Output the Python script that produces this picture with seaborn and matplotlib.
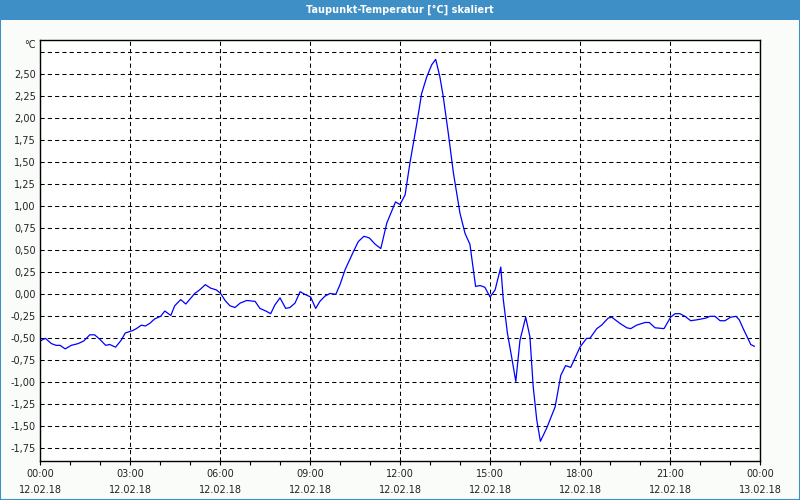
import matplotlib
matplotlib.use("Agg")
import matplotlib.pyplot as plt
import seaborn as sns
import pandas as pd
from matplotlib.patches import Rectangle
from matplotlib.ticker import MultipleLocator

title = "Taupunkt-Temperatur [°C] skaliert"
unit_label = "°C"

hours = [0.00, 0.18, 0.38, 0.54, 0.67, 0.84, 1.04, 1.27, 1.46, 1.66, 1.82, 1.99,
         2.19, 2.32, 2.52, 2.71, 2.84, 3.10, 3.21, 3.38, 3.51, 3.66, 3.82, 4.02,
         4.16, 4.36, 4.49, 4.69, 4.86, 5.16, 5.32, 5.51, 5.69, 5.88, 6.02, 6.17,
         6.33, 6.50, 6.67, 6.89, 7.17, 7.33, 7.53, 7.69, 7.83, 8.00, 8.19, 8.33,
         8.50, 8.67, 8.83, 9.02, 9.19, 9.33, 9.50, 9.67, 9.86, 10.00, 10.17, 10.44,
         10.61, 10.80, 10.98, 11.17, 11.36, 11.56, 11.85, 12.00, 12.17, 12.33, 12.56, 12.72,
         12.89, 13.06, 13.19, 13.33, 13.44, 13.61, 13.78, 14.00, 14.17, 14.33, 14.52, 14.67,
         14.83, 15.00, 15.17, 15.36, 15.44, 15.58, 15.72, 15.86, 16.00, 16.19, 16.33, 16.44,
         16.56, 16.68, 16.89, 17.17, 17.36, 17.52, 17.69, 18.00, 18.22, 18.33, 18.56, 18.72,
         18.94, 19.06, 19.33, 19.56, 19.69, 19.89, 20.17, 20.31, 20.50, 20.80, 21.02, 21.17,
         21.33, 21.50, 21.69, 21.89, 22.20, 22.33, 22.50, 22.67, 22.83, 23.02, 23.20, 23.31,
         23.44, 23.61, 23.69, 23.81]

values = [-0.53, -0.50, -0.56, -0.58, -0.58, -0.62, -0.58, -0.56, -0.53, -0.46, -0.46, -0.51,
          -0.58, -0.57, -0.60, -0.52, -0.44, -0.41, -0.39, -0.35, -0.36, -0.33, -0.28, -0.25,
          -0.19, -0.24, -0.13, -0.06, -0.11, 0.01, 0.05, 0.11, 0.07, 0.05, 0.01, -0.07,
          -0.13, -0.15, -0.10, -0.07, -0.08, -0.16, -0.19, -0.22, -0.12, -0.04, -0.16, -0.15,
          -0.10, 0.03, 0.00, -0.03, -0.16, -0.08, -0.02, 0.01, 0.00, 0.11, 0.28, 0.48,
          0.60, 0.66, 0.64, 0.57, 0.52, 0.81, 1.05, 1.02, 1.13, 1.49, 1.94, 2.28,
          2.47, 2.61, 2.67, 2.47, 2.25, 1.83, 1.38, 0.92, 0.69, 0.57, 0.09, 0.10,
          0.08, -0.03, 0.05, 0.31, -0.05, -0.44, -0.71, -0.99, -0.52, -0.26, -0.48, -1.05,
          -1.43, -1.67, -1.52, -1.28, -0.92, -0.81, -0.83, -0.60, -0.50, -0.50, -0.39, -0.35,
          -0.27, -0.26, -0.33, -0.38, -0.39, -0.35, -0.32, -0.32, -0.38, -0.39, -0.26, -0.22,
          -0.22, -0.25, -0.30, -0.29, -0.27, -0.25, -0.25, -0.30, -0.30, -0.26, -0.25, -0.29,
          -0.39, -0.51, -0.57, -0.59]

x_ticks = [0, 3, 6, 9, 12, 15, 18, 21, 24]
x_tick_labels = ["00:00\n12.02.18", "03:00\n12.02.18", "06:00\n12.02.18",
                 "09:00\n12.02.18", "12:00\n12.02.18", "15:00\n12.02.18",
                 "18:00\n12.02.18", "21:00\n12.02.18", "00:00\n13.02.18"]
y_ticks = [-1.75, -1.5, -1.25, -1.0, -0.75, -0.5, -0.25, 0.0, 0.25, 0.5,
           0.75, 1.0, 1.25, 1.5, 1.75, 2.0, 2.25, 2.5, 2.75]
y_tick_labels = ["-1,75", "-1,50", "-1,25", "-1,00", "-0,75", "-0,50", "-0,25",
                 "0,00", "0,25", "0,50", "0,75", "1,00", "1,25", "1,50", "1,75",
                 "2,00", "2,25", "2,50", ""]

df = pd.DataFrame({"hour": hours, "value": values})

plt.rcParams["font.family"] = ["DejaVu Sans"]
BG = "#f9fcf9"
BLUE_BAR = "#3d8fc6"

fig = plt.figure(figsize=(8, 5), dpi=100, facecolor=BG)
# title bar
fig.patches.append(Rectangle((0, 0.96), 1, 0.04, transform=fig.transFigure,
                             facecolor=BLUE_BAR, edgecolor="none", zorder=0))
# border
fig.patches.append(Rectangle((0.0006, 0.001), 0.9988, 0.998, transform=fig.transFigure,
                             facecolor="none", edgecolor=BLUE_BAR, linewidth=1.5, zorder=5))
fig.text(0.5, 0.981, title, ha="center", va="center", color="white",
         fontsize=7, fontweight="bold", family="DejaVu Sans")

ax = fig.add_axes([0.05, 0.078, 0.90, 0.842])
ax.set_facecolor("white")
sns.lineplot(data=df, x="hour", y="value", ax=ax, color="#0000ff", linewidth=0.9)

ax.set_xlim(0, 24)
ax.set_ylim(-1.894, 2.89)
ax.set_xticks(x_ticks)
ax.set_xticklabels(x_tick_labels, fontsize=7, color="#222222", linespacing=1.75)
ax.xaxis.set_minor_locator(MultipleLocator(1))
ax.set_yticks(y_ticks)
ax.set_yticklabels(y_tick_labels, fontsize=7, color="#222222")
ax.tick_params(axis="x", which="both", direction="out", length=3, width=0.8, pad=2.5)
ax.tick_params(axis="y", which="both", length=0, pad=3)
ax.set_xlabel("")
ax.set_ylabel("")
ax.grid(True, which="major", color="black", linestyle=(0, (4, 3)), linewidth=0.75)
ax.set_axisbelow(True)
for s in ax.spines.values():
    s.set_color("black")
    s.set_linewidth(1.0)

fig.text(36 / 800, 1 - 45 / 500, unit_label, ha="right", va="center",
         fontsize=7, color="#222222")

fig.savefig("out.png", dpi=100, facecolor=BG)
